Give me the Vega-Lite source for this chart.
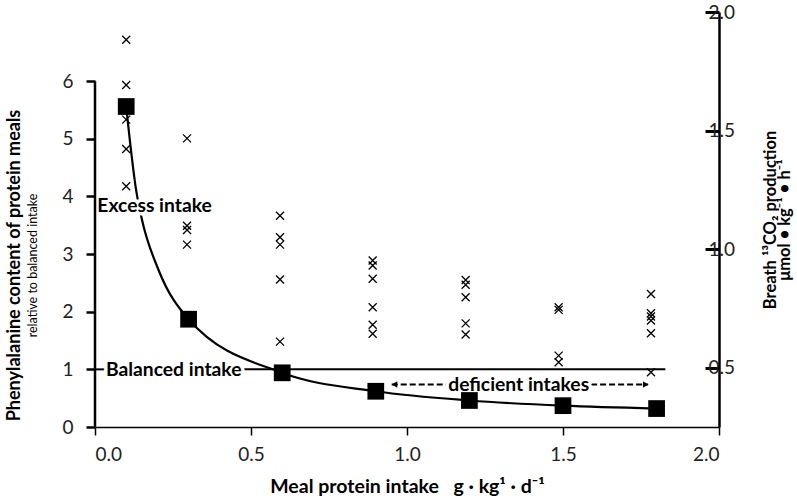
{
  "$schema": "https://vega.github.io/schema/vega-lite/v6.json",
  "width": 624,
  "height": 415,
  "autosize": "none",
  "padding": {"left": 95, "top": 12, "right": 78, "bottom": 72},
  "background": "white",
  "config": {"view": {"stroke": null}, "font": "Lato"},
  "title": {
    "text": "Phenylalanine content of protein meals",
    "subtitle": "relative to balanced intake",
    "orient": "left",
    "anchor": "middle",
    "frame": "group",
    "font": "Lato",
    "fontSize": 18,
    "fontWeight": "bold",
    "color": "black",
    "subtitleFont": "Lato",
    "subtitleFontSize": 12.5,
    "subtitleFontWeight": "normal",
    "subtitleColor": "black",
    "subtitlePadding": 3,
    "offset": 22,
    "dx": -46
  },
  "datasets": {
    "squares": [
      {"x": 0.1, "y": 5.56}, {"x": 0.3, "y": 1.87}, {"x": 0.6, "y": 0.94},
      {"x": 0.9, "y": 0.62}, {"x": 1.2, "y": 0.46}, {"x": 1.5, "y": 0.37}, {"x": 1.8, "y": 0.32}
    ],
    "curve": [
      {"x": 0.1, "y": 5.56}, {"x": 0.133, "y": 4.07}, {"x": 0.15, "y": 3.61},
      {"x": 0.204, "y": 2.72}, {"x": 0.3, "y": 1.87}, {"x": 0.6, "y": 0.94},
      {"x": 0.9, "y": 0.62}, {"x": 1.2, "y": 0.46}, {"x": 1.5, "y": 0.37}, {"x": 1.8, "y": 0.32}
    ],
    "leftAxisLine": [{"x": 0, "y": 0, "y2": 6}],
    "balanced": [{"x": 0, "x2": 0.033, "y": 1}, {"x": 0.467, "x2": 1.828, "y": 1}],
    "deficient": [{"x": 0.951, "x2": 1.127, "y": 0.737}, {"x": 1.59, "x2": 1.773, "y": 0.737}],
    "arrowheads": [{"x": 0.96, "y": 0.737, "side": "left"}, {"x": 1.765, "y": 0.737, "side": "right"}],
    "labels": [
      {"label": "Excess intake", "x": 0.0074, "y": 3.73},
      {"label": "Balanced intake", "x": 0.035, "y": 0.893},
      {"label": "deficient intakes", "x": 1.132, "y": 0.633}
    ],
    "breath": [
      {"x": 0.1, "y": 1.883}, {"x": 0.1, "y": 1.692}, {"x": 0.1, "y": 1.546}, {"x": 0.1, "y": 1.422}, {"x": 0.1, "y": 1.265},
      {"x": 0.295, "y": 1.467}, {"x": 0.295, "y": 1.099}, {"x": 0.295, "y": 1.081}, {"x": 0.295, "y": 1.019},
      {"x": 0.593, "y": 1.141}, {"x": 0.593, "y": 1.05}, {"x": 0.593, "y": 1.019}, {"x": 0.593, "y": 0.872}, {"x": 0.593, "y": 0.61},
      {"x": 0.89, "y": 0.952}, {"x": 0.89, "y": 0.931}, {"x": 0.89, "y": 0.875}, {"x": 0.89, "y": 0.755}, {"x": 0.89, "y": 0.681}, {"x": 0.89, "y": 0.643},
      {"x": 1.188, "y": 0.87}, {"x": 1.188, "y": 0.85}, {"x": 1.188, "y": 0.797}, {"x": 1.188, "y": 0.687}, {"x": 1.188, "y": 0.64},
      {"x": 1.486, "y": 0.755}, {"x": 1.486, "y": 0.744}, {"x": 1.486, "y": 0.551}, {"x": 1.486, "y": 0.523},
      {"x": 1.782, "y": 0.811}, {"x": 1.782, "y": 0.73}, {"x": 1.782, "y": 0.716}, {"x": 1.782, "y": 0.699}, {"x": 1.782, "y": 0.645}, {"x": 1.782, "y": 0.481}
    ]
  },
  "encoding": {
    "x": {
      "field": "x",
      "type": "quantitative",
      "scale": {"domain": [0, 2], "nice": false, "zero": false},
      "axis": {
        "values": [0, 0.5, 1, 1.5, 2],
        "format": ".1f",
        "grid": false,
        "domainColor": "black",
        "domainWidth": 1.5,
        "tickColor": "black",
        "tickWidth": 1.5,
        "tickSize": 8,
        "labelFont": "Lato",
        "labelFontSize": 19,
        "labelColor": "#222",
        "labelPadding": 10,
        "title": "Meal protein intake\u2003g · kg¹ · d⁻¹",
        "titleFont": "Lato",
        "titleFontSize": 19.5,
        "titleFontWeight": "bold",
        "titleColor": "black",
        "titlePadding": 13
      }
    }
  },
  "layer": [
    {
      "encoding": {
        "y": {
          "field": "y",
          "type": "quantitative",
          "scale": {"domain": [0, 7.2], "nice": false, "zero": false},
          "axis": {
            "orient": "left",
            "values": [0, 1, 2, 3, 4, 5, 6],
            "format": "d",
            "grid": false,
            "domain": false,
            "tickColor": "black",
            "tickWidth": 2.5,
            "tickSize": 9,
            "labelFont": "Lato",
            "labelFontSize": 19,
            "labelColor": "#222",
            "labelPadding": 13,
            "title": null
          }
        }
      },
      "layer": [
        {
          "data": {"name": "balanced"},
          "mark": {"type": "rule", "color": "black", "strokeWidth": 2},
          "encoding": {"x2": {"field": "x2"}}
        },
        {
          "data": {"name": "deficient"},
          "mark": {"type": "rule", "color": "black", "strokeWidth": 2, "strokeDash": [6, 3]},
          "encoding": {"x2": {"field": "x2"}}
        },
        {
          "data": {"name": "arrowheads"},
          "transform": [{"filter": "datum.side == 'left'"}],
          "mark": {"type": "point", "shape": "triangle-left", "filled": true, "color": "black", "size": 40, "opacity": 1}
        },
        {
          "data": {"name": "arrowheads"},
          "transform": [{"filter": "datum.side == 'right'"}],
          "mark": {"type": "point", "shape": "triangle-right", "filled": true, "color": "black", "size": 40, "opacity": 1}
        },
        {
          "data": {"name": "curve"},
          "mark": {"type": "line", "color": "black", "strokeWidth": 2.2, "interpolate": "monotone"},
          "encoding": {"order": {"field": "x", "type": "quantitative"}}
        },
        {
          "data": {"name": "labels"},
          "mark": {"type": "text", "align": "left", "baseline": "alphabetic", "font": "Lato", "fontSize": 19.3, "fontWeight": "bold", "color": "white", "stroke": "white", "strokeWidth": 7, "strokeJoin": "round"},
          "encoding": {"text": {"field": "label"}}
        },
        {
          "data": {"name": "labels"},
          "mark": {"type": "text", "align": "left", "baseline": "alphabetic", "font": "Lato", "fontSize": 19.3, "fontWeight": "bold", "color": "black"},
          "encoding": {"text": {"field": "label"}}
        },
        {
          "data": {"name": "leftAxisLine"},
          "mark": {"type": "rule", "color": "black", "strokeWidth": 2.5},
          "encoding": {"y2": {"field": "y2"}}
        },
        {
          "data": {"name": "squares"},
          "mark": {"type": "square", "color": "black", "size": 280, "opacity": 1}
        }
      ]
    },
    {
      "data": {"name": "breath"},
      "mark": {"type": "point", "shape": "M-1,-1L1,1M-1,1L1,-1", "filled": false, "stroke": "black", "strokeWidth": 1.3, "size": 64, "opacity": 1},
      "encoding": {
        "y": {
          "field": "y",
          "type": "quantitative",
          "scale": {"domain": [0.25, 2], "nice": false, "zero": false},
          "axis": {
            "orient": "right",
            "values": [0.5, 1, 1.5, 2],
            "format": ".1f",
            "grid": false,
            "domainColor": "black",
            "domainWidth": 2.5,
            "tickColor": "black",
            "tickWidth": 3,
            "tickSize": -14,
            "labelFont": "Lato",
            "labelFontSize": 19,
            "labelColor": "#222",
            "labelPadding": 3,
            "title": ["Breath ¹³CO₂ production", "μmol • kg⁻¹ • h⁻¹"],
            "titleFont": "Lato",
            "titleFontSize": 16.5,
            "titleFontWeight": "bold",
            "titleColor": "black",
            "titleAngle": -90,
            "titleBaseline": "top",
            "titleLineHeight": 14,
            "titlePadding": 14
          }
        }
      }
    }
  ],
  "resolve": {"scale": {"y": "independent"}, "axis": {"y": "independent"}}
}
